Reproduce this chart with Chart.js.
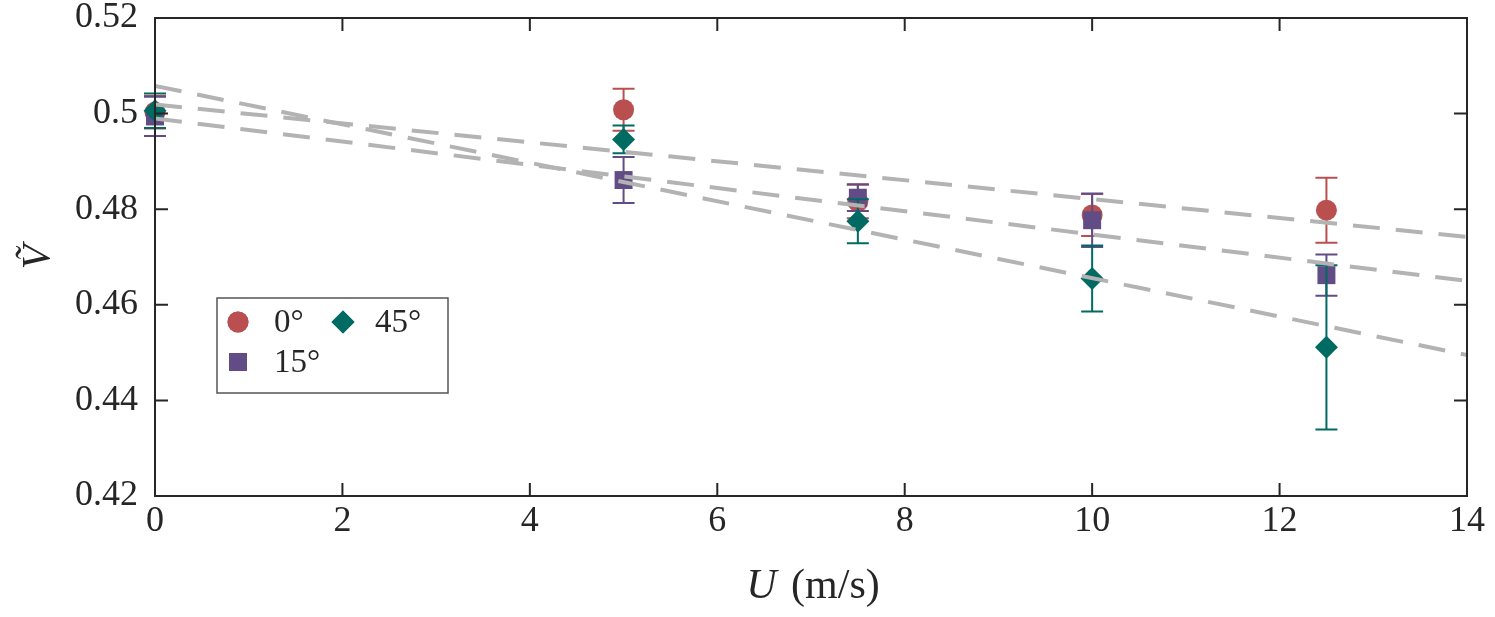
<!DOCTYPE html>
<html>
<head>
<meta charset="utf-8">
<script src="https://cdn.jsdelivr.net/npm/chart.js@4"></script>
<style>
  body { margin: 0; background: #fff; }
  canvas { display: block; }
</style>
</head>
<body>
<canvas id="chart" width="1495" height="617"></canvas>
<script>
// measured wind speeds (m/s)
const speeds = [0, 5, 7.5, 10, 12.5];

// V~ per yaw angle, with error bar half-widths
const v0 = [0.5003, 0.5008, 0.4816, 0.4788, 0.4798];
const err0 = [0.0034, 0.0044, 0.0035, 0.0044, 0.0068];
const v15 = [0.4994, 0.4861, 0.4824, 0.4777, 0.4662];
const err15 = [0.0041, 0.0048, 0.0028, 0.0056, 0.0043];
const v45 = [0.5006, 0.4946, 0.4775, 0.4655, 0.4511];
const err45 = [0.0036, 0.0029, 0.0046, 0.0069, 0.0172];

// dashed trend lines (end points)
const fitX = [0, 14];
const fitA = [0.5058, 0.4495];
const fitB = [0.5019, 0.4742];
const fitC = [0.4990, 0.4650];

const xTicks = [0, 2, 4, 6, 8, 10, 12, 14];
const yTicks = [0.42, 0.44, 0.46, 0.48, 0.5, 0.52];
const yTickLabels = ['0.42', '0.44', '0.46', '0.48', '0.5', '0.52'];

const RED = '#b9504f';
const PURPLE = '#624c85';
const TEAL = '#006b62';
const GREY = '#b3b3b3';
const INK = '#262626';
const SERIF = '"Liberation Serif", "DejaVu Serif", serif';

function pts(xs, ys) {
  return xs.map((x, i) => ({ x: x, y: ys[i] }));
}

function fitLine(ys) {
  return {
    type: 'line',
    data: pts(fitX, ys),
    borderColor: GREY,
    borderWidth: 4,
    borderDash: [27, 16],
    pointRadius: 0,
    fill: false,
    order: 0
  };
}

const errorBars = {
  id: 'errorBars',
  beforeDatasetDraw(chart, args) {
    const ds = chart.data.datasets[args.index];
    if (!ds.errors) return;
    const ctx = chart.ctx;
    const y = chart.scales.y;
    ctx.save();
    ctx.strokeStyle = ds.backgroundColor;
    ctx.lineWidth = 2;
    args.meta.data.forEach((pt, i) => {
      const v = ds.data[i].y;
      const top = y.getPixelForValue(v + ds.errors[i]);
      const bot = y.getPixelForValue(v - ds.errors[i]);
      ctx.beginPath();
      ctx.moveTo(pt.x, top); ctx.lineTo(pt.x, bot);
      ctx.moveTo(pt.x - 11, top); ctx.lineTo(pt.x + 11, top);
      ctx.moveTo(pt.x - 11, bot); ctx.lineTo(pt.x + 11, bot);
      ctx.stroke();
    });
    ctx.restore();
  },
  afterDraw(chart) {
    const ctx = chart.ctx;
    const a = chart.chartArea;
    const { x, y } = chart.scales;
    const tl = 13;
    ctx.save();
    ctx.strokeStyle = INK;
    ctx.lineWidth = 2;
    ctx.strokeRect(a.left, a.top, a.right - a.left, a.bottom - a.top);
    ctx.beginPath();
    xTicks.forEach(v => {
      const px = x.getPixelForValue(v);
      ctx.moveTo(px, a.bottom); ctx.lineTo(px, a.bottom - tl);
      ctx.moveTo(px, a.top); ctx.lineTo(px, a.top + tl);
    });
    yTicks.forEach(v => {
      const py = y.getPixelForValue(v);
      ctx.moveTo(a.left, py); ctx.lineTo(a.left + tl, py);
      ctx.moveTo(a.right, py); ctx.lineTo(a.right - tl, py);
    });
    ctx.stroke();

    // legend box
    ctx.fillStyle = '#fff';
    ctx.fillRect(217, 298, 231, 95);
    ctx.strokeStyle = '#555';
    ctx.lineWidth = 1.5;
    ctx.strokeRect(217, 298, 231, 95);
    const entries = [
      { ds: 1, mx: 238, my: 322, tx: 274, label: '0°' },
      { ds: 3, mx: 343, my: 322, tx: 375, label: '45°' },
      { ds: 2, mx: 238, my: 362, tx: 274, label: '15°' }
    ];
    entries.forEach(e => {
      const d = chart.data.datasets[e.ds];
      ctx.fillStyle = d.backgroundColor;
      Chart.helpers.drawPoint(ctx, { pointStyle: d.pointStyle, radius: d.pointRadius, borderWidth: 0 }, e.mx, e.my);
      ctx.fill();
      ctx.fillStyle = INK;
      ctx.font = '33px ' + SERIF;
      ctx.textBaseline = 'middle';
      ctx.textAlign = 'left';
      ctx.fillText(e.label, e.tx, e.my + 1);
    });

    // x axis title with italic U
    ctx.fillStyle = INK;
    ctx.textBaseline = 'alphabetic';
    const u = 'U';
    const rest = ' (m/s)';
    ctx.font = 'italic 42px ' + SERIF;
    const wu = ctx.measureText(u).width;
    ctx.font = '42px ' + SERIF;
    const wr = ctx.measureText(rest).width;
    const cx = (a.left + a.right) / 2;
    const sx = cx - (wu + wr) / 2;
    ctx.font = 'italic 42px ' + SERIF;
    ctx.fillText(u, sx, 598);
    ctx.font = '42px ' + SERIF;
    ctx.fillText(rest, sx + wu + 4, 598);
    ctx.restore();
  }
};

new Chart(document.getElementById('chart'), {
  type: 'scatter',
  data: {
    datasets: [
      fitLine(fitA),
      { label: '0°', data: pts(speeds, v0), errors: err0, backgroundColor: RED, borderColor: RED,
        borderWidth: 0, pointStyle: 'circle', pointRadius: 10.5, order: 3, clip: false },
      { label: '15°', data: pts(speeds, v15), errors: err15, backgroundColor: PURPLE, borderColor: PURPLE,
        borderWidth: 0, pointStyle: 'rect', pointRadius: 12.7, order: 2, clip: false },
      { label: '45°', data: pts(speeds, v45), errors: err45, backgroundColor: TEAL, borderColor: TEAL,
        borderWidth: 0, pointStyle: 'rectRot', pointRadius: 11.5, order: 1, clip: false },
      fitLine(fitB),
      fitLine(fitC)
    ]
  },
  options: {
    responsive: false,
    animation: false,
    layout: { padding: { left: 0, top: 18, right: 28, bottom: 0 } },
    plugins: { legend: { display: false }, tooltip: { enabled: false } },
    scales: {
      x: {
        type: 'linear',
        min: 0, max: 14,
        afterBuildTicks: s => { s.ticks = xTicks.map(v => ({ value: v })); },
        afterFit: s => { s.height = 121; s.paddingLeft = 0; s.paddingRight = 0; },
        grid: { display: false, drawTicks: false },
        border: { display: false },
        ticks: { color: INK, padding: 4, maxRotation: 0, font: { family: SERIF, size: 36 } }
      },
      y: {
        type: 'linear',
        min: 0.42, max: 0.52,
        afterBuildTicks: s => { s.ticks = yTicks.map(v => ({ value: v })); },
        afterFit: s => { s.width = 155; s.paddingTop = 0; s.paddingBottom = 0; },
        grid: { display: false, drawTicks: false },
        border: { display: false },
        ticks: {
          color: INK, padding: 17, font: { family: SERIF, size: 36 },
          callback: (v, i) => yTickLabels[i]
        },
        title: {
          display: true, text: 'Ṽ', color: INK, padding: { top: 14, bottom: 0 },
          font: { family: SERIF, size: 40, style: 'italic' }
        }
      }
    }
  },
  plugins: [errorBars]
});
</script>
</body>
</html>
